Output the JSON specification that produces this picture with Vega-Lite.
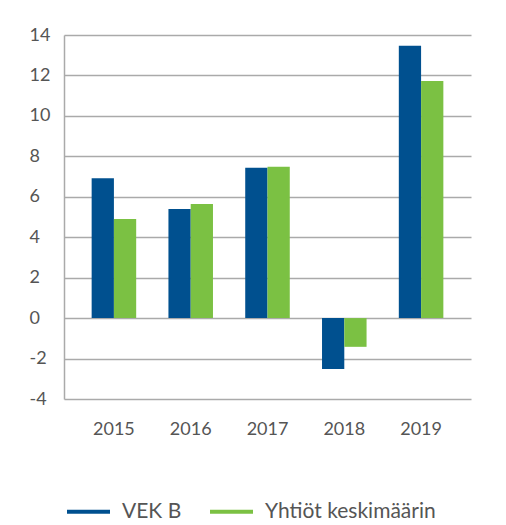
{
  "$schema": "https://vega.github.io/schema/vega-lite/v6.json",
  "autosize": "none",
  "width": 407,
  "height": 364,
  "padding": {"left": 64, "top": 35, "right": 35, "bottom": 126},
  "data": {
    "values": [
      {"year": "2015", "series": "VEK B", "value": 6.92},
      {"year": "2015", "series": "Yhtiöt keskimäärin", "value": 4.9},
      {"year": "2016", "series": "VEK B", "value": 5.4},
      {"year": "2016", "series": "Yhtiöt keskimäärin", "value": 5.64},
      {"year": "2017", "series": "VEK B", "value": 7.43},
      {"year": "2017", "series": "Yhtiöt keskimäärin", "value": 7.48},
      {"year": "2018", "series": "VEK B", "value": -2.52},
      {"year": "2018", "series": "Yhtiöt keskimäärin", "value": -1.42},
      {"year": "2019", "series": "VEK B", "value": 13.47},
      {"year": "2019", "series": "Yhtiöt keskimäärin", "value": 11.73}
    ]
  },
  "mark": {"type": "bar"},
  "encoding": {
    "x": {
      "field": "year",
      "type": "nominal",
      "scale": {"paddingInner": 0.42, "paddingOuter": 0.36},
      "axis": {
        "title": null,
        "labelAngle": 0,
        "ticks": false,
        "domain": false,
        "labelPadding": 21,
        "labelDx": -4,
        "labelBaseline": "top",
        "labelFontSize": 18
      }
    },
    "xOffset": {
      "field": "series",
      "type": "nominal",
      "sort": ["VEK B", "Yhtiöt keskimäärin"],
      "scale": {"paddingInner": 0, "paddingOuter": 0}
    },
    "y": {
      "field": "value",
      "type": "quantitative",
      "scale": {"domain": [-4, 14], "nice": false, "zero": false},
      "axis": {
        "title": null,
        "values": [-4, -2, 0, 2, 4, 6, 8, 10, 12, 14],
        "labelExpr": "replace(datum.label, '−', '-')",
        "ticks": false,
        "domain": true,
        "domainColor": "#aaaaaa",
        "domainWidth": 1.5,
        "grid": true,
        "gridColor": "#aaaaaa",
        "gridWidth": 1.5,
        "labelAlign": "left",
        "labelPadding": 35,
        "labelBaseline": "middle",
        "labelFontSize": 18
      }
    },
    "color": {
      "field": "series",
      "type": "nominal",
      "sort": ["VEK B", "Yhtiöt keskimäärin"],
      "scale": {"domain": ["VEK B", "Yhtiöt keskimäärin"], "range": ["#00508f", "#7bc143"]},
      "legend": {
        "title": null,
        "orient": "none",
        "direction": "horizontal",
        "legendX": 1,
        "legendY": 453,
        "symbolType": "stroke",
        "symbolSize": 1849,
        "symbolStrokeWidth": 4,
        "labelOffset": 10,
        "columnPadding": 20,
        "labelFontSize": 21,
        "labelLimit": 400,
        "labelColor": "#555555",
        "labelFont": "Lato",
        "encode": {
          "symbols": {
            "update": {
              "stroke": {"scale": "color", "field": "value"},
              "strokeWidth": {"value": 4}
            }
          }
        }
      }
    }
  },
  "config": {
    "view": {"stroke": null},
    "axis": {
      "labelFont": "Lato",
      "labelFontSize": 17,
      "labelColor": "#555555"
    }
  }
}
